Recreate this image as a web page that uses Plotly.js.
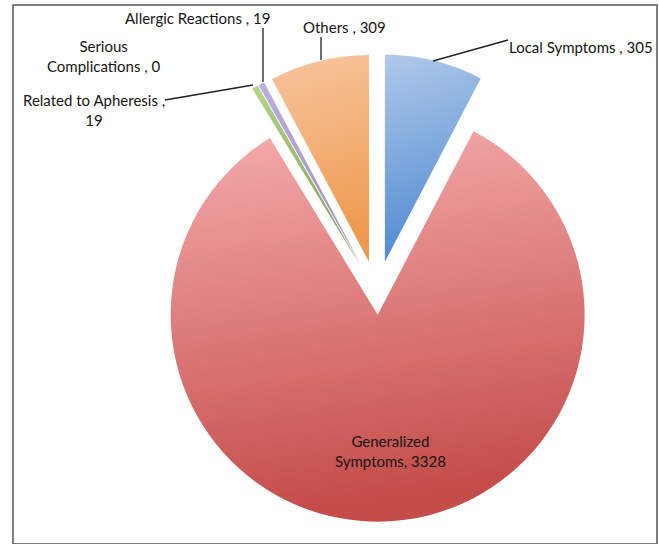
<!DOCTYPE html>
<html>
<head>
<meta charset="utf-8">
<script src="https://cdn.plot.ly/plotly-3.0.1.min.js"></script>
<style>html,body{margin:0;padding:0;background:#fff;}#chart{width:659px;height:544px;}</style>
</head>
<body>
<div id="chart"></div>
<script>
// ---- data ----
const categories = ["Local Symptoms", "Generalized Symptoms", "Related to Apheresis", "Serious Complications", "Allergic Reactions", "Others"];
const values = [305, 3328, 19, 0, 19, 309];
const labelTexts = ["Local Symptoms , 305", "Generalized<br>Symptoms, 3328", "Related to Apheresis ,<br>19", "Serious<br>Complications , 0", "Allergic Reactions , 19", "Others , 309"];

// ---- styling ----
const colors = ["#86aadb", "#e07c7a", "#94b466", "#b7b7b7", "#ab9cc9", "#f4ad72"];
const pulls = [0.16, 0.1, 0.16, 0.16, 0.16, 0.16];
const W = 659, H = 544;
const px = x => x / W;
const py = y => 1 - y / H;

// label positions (pixel centres) and leader lines
const labelPos = [[581, 47], [390, 451], [94, 110], [103, 56], [197, 18], [344, 27]];
const leaders = [[[508, 40], [433, 61]], null, [[165, 100], [253, 85]], null, [[263, 28], [263, 82]], [[321, 37], [321, 60]]];

const trace = {
  type: "pie",
  labels: categories,
  values: values,
  sort: false,
  direction: "clockwise",
  rotation: 0,
  pull: pulls,
  marker: {colors: colors, line: {width: 0}},
  textinfo: "none",
  hoverinfo: "label+value",
  showlegend: false,
  domain: {x: [0.2077, 0.9364], y: [0.0182, 0.9009]}
};

const annotations = [];
labelTexts.forEach((t, i) => {
  annotations.push({
    text: t, x: px(labelPos[i][0]), y: py(labelPos[i][1]), xref: "paper", yref: "paper",
    xanchor: "center", yanchor: "middle", showarrow: false, align: "center",
    font: {family: "Lato, 'Open Sans', sans-serif", size: 15, color: "#151515"}
  });
});
const shapes = [{
  type: "rect", xref: "paper", yref: "paper", x0: px(13), x1: px(657), y0: py(544), y1: py(5),
  line: {color: "#555", width: 1.5}, fillcolor: "rgba(0,0,0,0)", layer: "below"
}];
leaders.forEach(l => {
  if (!l) return;
  shapes.push({type: "line", xref: "paper", yref: "paper", x0: px(l[0][0]), y0: py(l[0][1]), x1: px(l[1][0]), y1: py(l[1][1]), line: {color: "#222", width: 1.3}});
});

const layout = {
  width: W, height: H,
  margin: {l: 0, r: 0, t: 0, b: 0},
  paper_bgcolor: "#fff", plot_bgcolor: "#fff",
  annotations: annotations, shapes: shapes
};

const grads = [["#b0c9ea", "#4f8ad0"], ["#f5adad", "#c44c49"], ["#b5d58d", "#7f9e52"], ["#ccc", "#999"], ["#bfb1dc", "#9b8bbd"], ["#f8c6a0", "#ee994c"]];

Plotly.newPlot("chart", [trace], layout, {staticPlot: true}).then(gd => {
  const svg = gd.querySelector("svg.main-svg");
  const ns = "http://www.w3.org/2000/svg";
  let defs = svg.querySelector("defs");
  if (!defs) { defs = document.createElementNS(ns, "defs"); svg.insertBefore(defs, svg.firstChild); }
  grads.forEach((g, i) => {
    const lg = document.createElementNS(ns, "linearGradient");
    lg.setAttribute("id", "pg" + i);
    lg.setAttribute("x1", "0"); lg.setAttribute("y1", "0"); lg.setAttribute("x2", "0.15"); lg.setAttribute("y2", "1");
    [[0, g[0]], [1, g[1]]].forEach(s => {
      const st = document.createElementNS(ns, "stop");
      st.setAttribute("offset", s[0]); st.setAttribute("stop-color", s[1]);
      lg.appendChild(st);
    });
    defs.appendChild(lg);
  });
  gd.querySelectorAll("g.slice").forEach(sl => {
    const d = sl.__data__;
    const idx = d && d.i !== undefined ? d.i : null;
    const p = sl.querySelector("path.surface");
    if (p && idx !== null && grads[idx]) p.style.fill = "url(#pg" + idx + ")";
  });
});
</script>
</body>
</html>
